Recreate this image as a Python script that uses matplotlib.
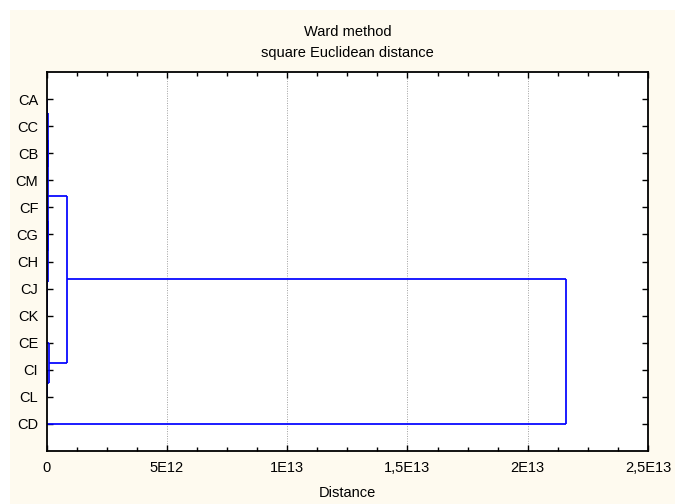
import matplotlib
matplotlib.use("Agg")
import matplotlib.pyplot as plt
from matplotlib.patches import Rectangle
from matplotlib.ticker import MultipleLocator

plt.rcParams['font.family'] = ['Liberation Sans', 'DejaVu Sans']

leaves = ["CA", "CC", "CB", "CM", "CF", "CG", "CH", "CJ", "CK", "CE", "CI", "CL", "CD"]
# (child, child, linkage distance); int children refer to earlier merges
merges = [
    ("CA", "CC", 1e10),
    ("CB", "CM", 1e10),
    (0, 1, 5e10),
    ("CF", "CG", 1e10),
    ("CJ", "CK", 5e9),
    ("CH", 4, 1e10),
    (3, 5, 4e10),
    (2, 6, 6e10),
    ("CI", "CL", 2e10),
    ("CE", 8, 9e10),
    (7, 9, 8.3e11),
    (10, "CD", 2.16e13),
]
xticks = [0, 5e12, 1e13, 1.5e13, 2e13, 2.5e13]
xticklabels = ["0", "5E12", "1E13", "1,5E13", "2E13", "2,5E13"]

W, H = 675, 504
fs = 10.5
fig = plt.figure(figsize=(W / 100, H / 100), dpi=100, facecolor="white")
bg = Rectangle((10 / W, 0), 1, 1 - 10 / H, transform=fig.transFigure,
               facecolor="#FEFAEF", edgecolor="none", zorder=-10)
fig.add_artist(bg)
ax = fig.add_axes([46.7 / W, (H - 451) / H, (648 - 46.7) / W, (451 - 72) / H])
ax.set_facecolor("white")

pos = {}
for i, name in enumerate(leaves):
    pos[name] = (i, 0.0)

for k, (a, b, d) in enumerate(merges):
    ya, ha = pos[a]
    yb, hb = pos[b]
    ax.plot([ha, d], [ya, ya], color="#0000FF", lw=1.25, solid_capstyle="butt")
    ax.plot([hb, d], [yb, yb], color="#0000FF", lw=1.25, solid_capstyle="butt")
    ax.plot([d, d], [ya, yb], color="#0000FF", lw=1.25, solid_capstyle="butt")
    pos[k] = ((ya + yb) / 2, d)

ax.set_xlim(0, 2.5e13)
ax.set_ylim(13, -1)
ax.set_xticks(xticks)
ax.set_xticklabels(xticklabels)
ax.xaxis.set_minor_locator(MultipleLocator(1.25e12))
ax.set_yticks(range(len(leaves)))
ax.set_yticklabels(leaves)

for x in xticks[1:-1]:
    ax.axvline(x, color="#A0A0A0", lw=0.7, ls=(0, (1, 1.5)), zorder=0.5)

ax.tick_params(axis="both", which="both", direction="in", top=True, right=True,
               labelsize=fs, color="black")
ax.tick_params(axis="x", which="major", length=4, width=1, pad=7)
ax.tick_params(axis="x", which="minor", length=3, width=1)
ax.tick_params(axis="y", which="major", length=4, width=1, pad=6)
for s in ax.spines.values():
    s.set_linewidth(1.3)

ax.set_xlabel("Distance", fontsize=fs, labelpad=8)
cx = (46.7 + 648) / 2 / W
fig.text(cx, 1 - 32 / H, "Ward method", ha="center", va="center", fontsize=fs)
fig.text(cx, 1 - 53 / H, "square Euclidean distance", ha="center", va="center", fontsize=fs)

fig.savefig("out.png", dpi=100, facecolor=fig.get_facecolor())
